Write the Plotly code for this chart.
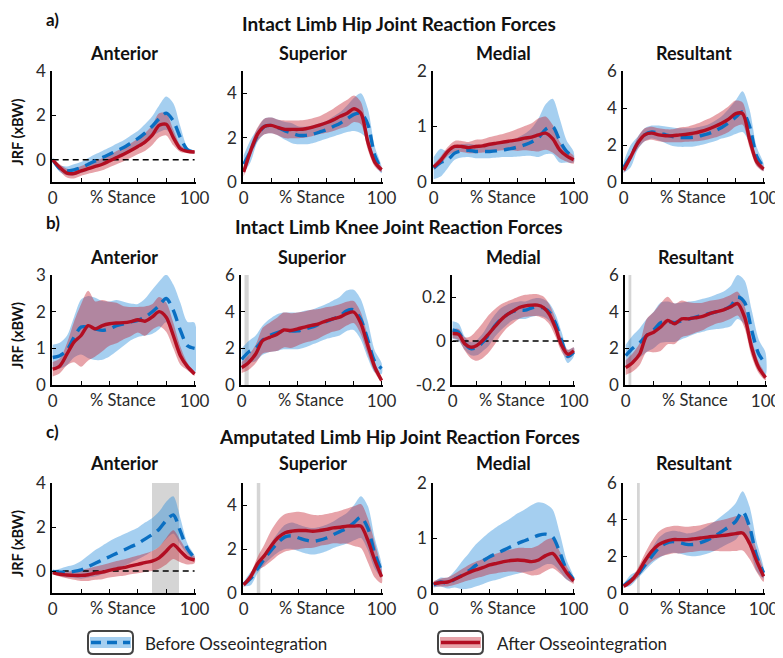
import plotly.graph_objects as go

# page body has an 8px margin: draw on a 775x650 canvas offset by 8px
OFF = 8
W, H = 783 - OFF, 658 - OFF
pct = list(range(0, 101, 5))

# ---------------- a) Intact limb hip ----------------
a_ant_before = [0, -0.4, -0.5, -0.45, -0.35, -0.2, -0.05, 0.1, 0.25, 0.4, 0.55, 0.75, 0.95, 1.2, 1.5, 1.85, 2.1, 1.75, 1.0, 0.45, 0.35]
a_ant_before_sd = [0.1, 0.15, 0.2, 0.25, 0.25, 0.28, 0.3, 0.3, 0.3, 0.32, 0.33, 0.35, 0.35, 0.4, 0.45, 0.6, 0.75, 0.8, 0.5, 0.12, 0.05]
a_ant_after = [0, -0.35, -0.6, -0.62, -0.5, -0.4, -0.3, -0.2, -0.05, 0.1, 0.25, 0.42, 0.6, 0.8, 1.1, 1.55, 1.6, 1.0, 0.5, 0.38, 0.35]
a_ant_after_sd = [0.05, 0.15, 0.2, 0.22, 0.22, 0.23, 0.25, 0.27, 0.28, 0.3, 0.32, 0.33, 0.35, 0.4, 0.45, 0.55, 0.5, 0.35, 0.15, 0.08, 0.05]

a_sup_before = [0.8, 1.4, 2.1, 2.5, 2.55, 2.45, 2.3, 2.2, 2.1, 2.1, 2.15, 2.25, 2.35, 2.5, 2.65, 2.85, 3.05, 3.1, 2.6, 1.2, 0.55]
a_sup_before_sd = [0.4, 0.5, 0.3, 0.35, 0.35, 0.35, 0.4, 0.45, 0.4, 0.4, 0.4, 0.4, 0.4, 0.45, 0.5, 0.6, 0.75, 0.9, 0.7, 0.4, 0.15]
a_sup_after = [0.45, 1.4, 2.15, 2.5, 2.55, 2.45, 2.37, 2.37, 2.37, 2.4, 2.47, 2.56, 2.67, 2.8, 2.96, 3.1, 3.3, 3.1, 1.8, 0.9, 0.55]
a_sup_after_sd = [0.2, 0.25, 0.3, 0.35, 0.35, 0.35, 0.4, 0.4, 0.4, 0.4, 0.4, 0.4, 0.45, 0.5, 0.55, 0.6, 0.6, 0.5, 0.35, 0.2, 0.1]

a_med_before = [0.25, 0.35, 0.4, 0.52, 0.56, 0.57, 0.55, 0.55, 0.55, 0.56, 0.58, 0.6, 0.63, 0.67, 0.72, 0.8, 0.95, 1.0, 0.75, 0.55, 0.45]
a_med_before_sd = [0.2, 0.25, 0.15, 0.12, 0.12, 0.12, 0.12, 0.12, 0.12, 0.12, 0.13, 0.15, 0.17, 0.2, 0.25, 0.35, 0.45, 0.5, 0.4, 0.2, 0.1]
a_med_after = [0.27, 0.39, 0.55, 0.64, 0.64, 0.62, 0.64, 0.65, 0.68, 0.7, 0.72, 0.74, 0.76, 0.79, 0.81, 0.85, 0.88, 0.78, 0.58, 0.47, 0.4]
a_med_after_sd = [0.05, 0.07, 0.08, 0.1, 0.1, 0.1, 0.12, 0.12, 0.13, 0.14, 0.15, 0.17, 0.2, 0.22, 0.25, 0.3, 0.3, 0.25, 0.15, 0.1, 0.07]

a_res_before = [0.8, 1.4, 2.1, 2.55, 2.7, 2.65, 2.55, 2.45, 2.4, 2.4, 2.42, 2.5, 2.6, 2.75, 2.95, 3.2, 3.5, 3.8, 3.0, 1.4, 0.8]
a_res_before_sd = [0.3, 0.6, 0.35, 0.35, 0.35, 0.4, 0.45, 0.5, 0.5, 0.5, 0.5, 0.5, 0.5, 0.55, 0.6, 0.75, 0.9, 1.1, 0.9, 0.5, 0.2]
a_res_after = [0.64, 1.36, 2.1, 2.55, 2.64, 2.55, 2.5, 2.5, 2.55, 2.58, 2.64, 2.73, 2.85, 3.0, 3.18, 3.4, 3.7, 3.7, 2.3, 1.1, 0.7]
a_res_after_sd = [0.15, 0.2, 0.3, 0.35, 0.35, 0.35, 0.35, 0.35, 0.4, 0.4, 0.45, 0.5, 0.55, 0.6, 0.65, 0.7, 0.7, 0.6, 0.45, 0.25, 0.12]

# ---------------- b) Intact limb knee ----------------
b_ant_before = [0.75, 0.8, 0.94, 1.3, 1.58, 1.58, 1.53, 1.49, 1.53, 1.62, 1.67, 1.72, 1.76, 1.85, 1.99, 2.17, 2.36, 2.04, 1.49, 1.07, 1.0]
b_ant_before_sd = [0.35, 0.35, 0.4, 0.55, 0.75, 0.85, 0.85, 0.8, 0.75, 0.7, 0.6, 0.5, 0.45, 0.5, 0.6, 0.65, 0.65, 0.7, 0.75, 0.65, 0.7]
b_ant_after = [0.43, 0.52, 0.84, 1.17, 1.35, 1.62, 1.53, 1.62, 1.67, 1.69, 1.7, 1.73, 1.78, 1.74, 1.85, 2.0, 1.85, 1.35, 0.8, 0.5, 0.3]
b_ant_after_sd = [0.2, 0.2, 0.3, 0.55, 0.85, 0.95, 0.75, 0.7, 0.6, 0.55, 0.45, 0.4, 0.35, 0.4, 0.35, 0.4, 0.4, 0.35, 0.25, 0.1, 0.05]

b_sup_before = [1.4, 1.8, 2.0, 2.45, 2.7, 2.85, 2.95, 2.95, 2.95, 3.05, 3.15, 3.3, 3.45, 3.6, 3.75, 4.05, 4.1, 3.6, 2.5, 1.3, 0.9]
b_sup_before_sd = [0.6, 0.6, 0.7, 0.8, 0.9, 1.0, 1.0, 1.0, 1.0, 1.0, 0.95, 0.95, 0.95, 1.0, 1.05, 1.1, 1.1, 1.1, 1.0, 0.6, 0.3]
b_sup_after = [0.95, 1.23, 1.69, 2.42, 2.6, 2.75, 3.0, 2.97, 3.06, 3.16, 3.25, 3.34, 3.49, 3.6, 3.7, 3.89, 3.98, 3.4, 2.2, 1.0, 0.25]
b_sup_after_sd = [0.3, 0.4, 0.5, 0.7, 0.8, 0.9, 0.95, 0.95, 0.9, 0.85, 0.85, 0.8, 0.75, 0.7, 0.7, 0.65, 0.6, 0.6, 0.5, 0.3, 0.1]

b_med_before = [0.05, 0.04, -0.01, -0.035, -0.03, -0.005, 0.03, 0.07, 0.1, 0.12, 0.135, 0.14, 0.14, 0.15, 0.155, 0.15, 0.13, 0.08, 0.0, -0.07, -0.05]
b_med_before_sd = [0.04, 0.04, 0.03, 0.03, 0.035, 0.04, 0.05, 0.05, 0.05, 0.045, 0.04, 0.04, 0.04, 0.04, 0.04, 0.04, 0.04, 0.04, 0.04, 0.03, 0.02]
b_med_after = [0.034, 0.03, -0.013, -0.028, -0.02, 0.003, 0.034, 0.066, 0.097, 0.12, 0.136, 0.152, 0.16, 0.163, 0.163, 0.152, 0.12, 0.058, -0.02, -0.06, -0.044]
b_med_after_sd = [0.02, 0.025, 0.03, 0.05, 0.07, 0.08, 0.085, 0.08, 0.07, 0.06, 0.055, 0.05, 0.05, 0.05, 0.05, 0.05, 0.045, 0.04, 0.03, 0.02, 0.015]

b_res_before = [1.6, 2.0, 2.3, 2.7, 3.0, 3.4, 3.45, 3.4, 3.5, 3.6, 3.7, 3.8, 3.9, 4.0, 4.1, 4.3, 4.8, 4.5, 3.0, 1.7, 1.15]
b_res_before_sd = [0.6, 0.7, 0.8, 0.9, 1.0, 1.1, 1.1, 1.05, 1.0, 0.95, 0.9, 0.9, 0.9, 0.95, 1.0, 1.1, 1.2, 1.2, 1.1, 0.8, 0.6]
b_res_after = [0.95, 1.23, 1.69, 2.7, 2.88, 3.16, 3.52, 3.34, 3.61, 3.61, 3.67, 3.74, 3.89, 4.0, 4.1, 4.26, 4.44, 3.7, 2.05, 0.95, 0.4]
b_res_after_sd = [0.4, 0.5, 0.6, 0.9, 1.1, 1.3, 1.3, 1.1, 1.0, 0.9, 0.8, 0.75, 0.7, 0.65, 0.65, 0.65, 0.65, 0.6, 0.5, 0.3, 0.15]

# ---------------- c) Amputated limb hip ----------------
c_ant_before = [-0.02, -0.05, -0.05, -0.02, 0.05, 0.2, 0.35, 0.5, 0.65, 0.8, 0.95, 1.1, 1.25, 1.45, 1.65, 1.9, 2.3, 2.55, 1.8, 1.0, 0.6]
c_ant_before_sd = [0.05, 0.15, 0.25, 0.3, 0.4, 0.5, 0.6, 0.65, 0.7, 0.72, 0.72, 0.72, 0.72, 0.75, 0.75, 0.8, 0.85, 0.85, 0.6, 0.25, 0.1]
c_ant_after = [-0.07, -0.15, -0.18, -0.2, -0.2, -0.17, -0.1, -0.05, 0.03, 0.1, 0.15, 0.23, 0.3, 0.38, 0.45, 0.6, 0.9, 1.2, 0.9, 0.6, 0.5]
c_ant_after_sd = [0.05, 0.1, 0.15, 0.2, 0.25, 0.28, 0.3, 0.32, 0.33, 0.35, 0.37, 0.38, 0.4, 0.42, 0.45, 0.5, 0.6, 0.65, 0.5, 0.3, 0.15]

c_sup_before = [0.4, 0.65, 1.1, 1.55, 1.95, 2.3, 2.55, 2.6, 2.5, 2.4, 2.35, 2.4, 2.5, 2.65, 2.8, 2.95, 3.2, 3.45, 2.95, 1.8, 1.0]
c_sup_before_sd = [0.1, 0.3, 0.2, 0.25, 0.35, 0.45, 0.55, 0.6, 0.6, 0.6, 0.6, 0.6, 0.6, 0.6, 0.65, 0.7, 0.8, 0.95, 1.0, 0.7, 0.3]
c_sup_after = [0.37, 0.74, 1.33, 1.7, 2.15, 2.52, 2.74, 2.81, 2.84, 2.84, 2.81, 2.84, 2.89, 2.96, 2.99, 3.04, 3.04, 3.04, 2.4, 1.5, 0.74]
c_sup_after_sd = [0.1, 0.15, 0.3, 0.5, 0.7, 0.8, 0.85, 0.85, 0.85, 0.8, 0.75, 0.7, 0.7, 0.7, 0.75, 0.8, 0.9, 1.0, 1.0, 0.8, 0.3]

c_med_before = [0.15, 0.2, 0.18, 0.25, 0.32, 0.4, 0.5, 0.58, 0.66, 0.72, 0.78, 0.84, 0.9, 0.95, 1.0, 1.05, 1.07, 1.02, 0.75, 0.42, 0.25]
c_med_before_sd = [0.05, 0.08, 0.1, 0.15, 0.25, 0.32, 0.38, 0.42, 0.45, 0.48, 0.5, 0.52, 0.55, 0.57, 0.6, 0.6, 0.55, 0.5, 0.35, 0.18, 0.05]
c_med_after = [0.17, 0.19, 0.2, 0.25, 0.31, 0.37, 0.42, 0.46, 0.51, 0.54, 0.57, 0.59, 0.6, 0.59, 0.57, 0.6, 0.68, 0.72, 0.56, 0.37, 0.22]
c_med_after_sd = [0.05, 0.07, 0.08, 0.1, 0.12, 0.14, 0.15, 0.16, 0.17, 0.18, 0.19, 0.2, 0.22, 0.23, 0.25, 0.27, 0.28, 0.27, 0.2, 0.12, 0.05]

c_res_before = [0.4, 0.7, 1.0, 1.5, 2.0, 2.45, 2.7, 2.8, 2.75, 2.65, 2.65, 2.75, 2.9, 3.1, 3.35, 3.6, 3.9, 4.45, 3.6, 2.0, 1.1]
c_res_before_sd = [0.1, 0.3, 0.2, 0.3, 0.4, 0.55, 0.6, 0.6, 0.6, 0.6, 0.65, 0.7, 0.75, 0.8, 0.85, 0.9, 1.0, 1.1, 1.1, 0.8, 0.3]
c_res_after = [0.36, 0.64, 1.09, 1.73, 2.27, 2.64, 2.82, 2.91, 2.91, 2.91, 2.95, 3.0, 3.05, 3.09, 3.13, 3.18, 3.24, 3.27, 2.7, 1.75, 0.91]
c_res_after_sd = [0.1, 0.15, 0.25, 0.4, 0.55, 0.7, 0.75, 0.75, 0.75, 0.7, 0.7, 0.7, 0.75, 0.8, 0.85, 0.9, 0.95, 0.95, 0.85, 0.6, 0.3]

# shaded (significant) regions, % stance
b_sup_gray = [2, 5]
b_res_gray = [2, 4]
c_ant_gray = [70, 89]
c_sup_gray = [9.5, 12]
c_res_gray = [9.5, 11.5]

row_titles = ["Intact Limb Hip Joint Reaction Forces",
              "Intact Limb Knee Joint Reaction Forces",
              "Amputated Limb Hip Joint Reaction Forces"]
row_tags = ["a)", "b)", "c)"]
col_titles = ["Anterior", "Superior", "Medial", "Resultant"]
legend_labels = ["Before Osseointegration", "After Osseointegration"]

panels = [
    # row, col, before, before_sd, after, after_sd, yrange, yticks, zero line, gray
    (0, 0, a_ant_before, a_ant_before_sd, a_ant_after, a_ant_after_sd, [-1, 4], [0, 2, 4], True, None),
    (0, 1, a_sup_before, a_sup_before_sd, a_sup_after, a_sup_after_sd, [0, 5], [0, 2, 4], False, None),
    (0, 2, a_med_before, a_med_before_sd, a_med_after, a_med_after_sd, [0, 2], [0, 1, 2], False, None),
    (0, 3, a_res_before, a_res_before_sd, a_res_after, a_res_after_sd, [0, 6], [0, 2, 4, 6], False, None),
    (1, 0, b_ant_before, b_ant_before_sd, b_ant_after, b_ant_after_sd, [0, 3], [0, 1, 2, 3], False, None),
    (1, 1, b_sup_before, b_sup_before_sd, b_sup_after, b_sup_after_sd, [0, 6], [0, 2, 4, 6], False, b_sup_gray),
    (1, 2, b_med_before, b_med_before_sd, b_med_after, b_med_after_sd, [-0.2, 0.3], [-0.2, 0, 0.2], True, None),
    (1, 3, b_res_before, b_res_before_sd, b_res_after, b_res_after_sd, [0, 6], [0, 2, 4, 6], False, b_res_gray),
    (2, 0, c_ant_before, c_ant_before_sd, c_ant_after, c_ant_after_sd, [-1, 4], [0, 2, 4], True, c_ant_gray),
    (2, 1, c_sup_before, c_sup_before_sd, c_sup_after, c_sup_after_sd, [0, 5], [0, 2, 4], False, c_sup_gray),
    (2, 2, c_med_before, c_med_before_sd, c_med_after, c_med_after_sd, [0, 2], [0, 1, 2], False, None),
    (2, 3, c_res_before, c_res_before_sd, c_res_after, c_res_after_sd, [0, 6], [0, 2, 4, 6], False, c_res_gray),
]

# ---------------- layout geometry (reference pixels) ----------------
col_px = [[(52, 196), (243, 383), (433, 575), (623, 765)],
          [(52, 196), (241, 383), (452, 575), (625, 767)],
          [(52, 196), (243, 383), (433, 575), (623, 765)]]
row_px = [(71, 182), (275, 385), (483, 593)]
row_title_y = [23, 226, 436]
row_tag_y = [19, 222, 432]
col_title_y = [53, 257, 463]

def px(x):
    return (x - OFF) / W

def py(y):
    return 1 - (y - OFF) / H

FONT = "Lato"
BLUE_LINE = "#0a6fc2"
RED_LINE = "rgb(178,14,34)"
BLUE_FILL = "rgba(40,140,220,0.42)"
RED_FILL = "rgba(195,25,40,0.40)"

fig = go.Figure()
layout = dict(width=W, height=H, margin=dict(l=0, r=0, t=0, b=0, pad=0, autoexpand=False),
              template="none",
              paper_bgcolor="white", plot_bgcolor="white", showlegend=False,
              font=dict(family=FONT, color="#222"))
annotations = []
shapes = []

for k, (r, c, bm, bsd, am, asd, yr, yt, zero, gray) in enumerate(panels):
    i = k + 1
    xs = "" if i == 1 else str(i)
    xa, ya = "x" + xs, "y" + xs
    x0, x1 = col_px[r][c]
    y0, y1 = row_px[r]
    layout["xaxis" + xs] = dict(domain=[px(x0), px(x1)], anchor=ya, range=[-0.5, 101],
                                automargin=False,
                                showline=True, linecolor="black", linewidth=1.5,
                                ticks="inside", ticklen=4, tickcolor="black",
                                tickvals=[0, 20, 40, 60, 80, 100],
                                ticktext=["0", "", "", "", "", "100"],
                                tickfont=dict(size=17, color="#2a2a2a", family=FONT),
                                showgrid=False, zeroline=False, fixedrange=True)
    layout["yaxis" + xs] = dict(domain=[py(y1), py(y0)], anchor=xa, range=yr,
                                automargin=False,
                                showline=True, linecolor="black", linewidth=1.5,
                                ticks="inside", ticklen=4, tickcolor="black",
                                tickvals=yt, ticktext=[("%g" % v) for v in yt],
                                tickfont=dict(size=17, color="#2a2a2a", family=FONT),
                                ticklabelstandoff=1,
                                showgrid=False, zeroline=False, fixedrange=True)
    if gray is not None:
        shapes.append(dict(type="rect", xref=xa, yref=ya + " domain", x0=gray[0], x1=gray[1],
                           y0=0, y1=1, fillcolor="rgba(185,185,185,0.6)", line=dict(width=0),
                           layer="below"))
    for mean, sd, fillc in ((bm, bsd, BLUE_FILL), (am, asd, RED_FILL)):
        up = [m + s for m, s in zip(mean, sd)]
        lo = [m - s for m, s in zip(mean, sd)]
        fig.add_trace(go.Scatter(x=pct + pct[::-1], y=up + lo[::-1], xaxis=xa, yaxis=ya,
                                 mode="lines", fill="toself", fillcolor=fillc,
                                 line=dict(width=0, shape="spline", smoothing=0.8),
                                 hoverinfo="skip"))
    if zero:
        fig.add_trace(go.Scatter(x=[pct[0], pct[-1]], y=[0, 0], xaxis=xa, yaxis=ya, mode="lines",
                                 line=dict(color="black", width=1.5, dash="6px,4px"),
                                 hoverinfo="skip"))
    fig.add_trace(go.Scatter(x=pct, y=bm, xaxis=xa, yaxis=ya, mode="lines",
                             line=dict(color=BLUE_LINE, width=3.4, dash="12px,7px",
                                       shape="spline", smoothing=0.8),
                             name=legend_labels[0]))
    fig.add_trace(go.Scatter(x=pct, y=am, xaxis=xa, yaxis=ya, mode="lines",
                             line=dict(color=RED_LINE, width=3.4, shape="spline", smoothing=0.8),
                             name=legend_labels[1]))
    # "% Stance" label
    annotations.append(dict(text="% Stance", xref=xa + " domain", x=0.49, yref=ya + " domain",
                            y=0, yanchor="top", yshift=-3, showarrow=False,
                            font=dict(size=16.5, color="#2a2a2a", family=FONT)))
    # column title
    annotations.append(dict(text="<b>%s</b>" % col_titles[c], xref=xa + " domain", x=0.5,
                            xanchor="center", yref="paper", y=py(col_title_y[r]), yanchor="middle",
                            showarrow=False, font=dict(size=18, color="#111", family=FONT)))

for r in range(3):
    annotations.append(dict(text="<b>%s</b>" % row_titles[r], xref="paper", x=px(399),
                            xanchor="center", yref="paper", y=py(row_title_y[r]), yanchor="middle",
                            showarrow=False, font=dict(size=19, color="#111", family=FONT)))
    annotations.append(dict(text="<b>%s</b>" % row_tags[r], xref="paper", x=px(44), xanchor="left",
                            yref="paper", y=py(row_tag_y[r]), yanchor="middle",
                            showarrow=False, font=dict(size=17, color="#111", family=FONT)))
    yc = (row_px[r][0] + row_px[r][1]) / 2
    annotations.append(dict(text="<b>JRF (xBW)</b>", xref="paper", x=px(17), xanchor="center",
                            yref="paper", y=py(yc + 6), yanchor="middle", textangle=-90,
                            showarrow=False, font=dict(size=14.5, color="#111", family=FONT)))

# ---------------- legend (drawn) ----------------
def rounded_box(x0, y0, x1, y1, rad):
    X0, X1 = px(x0), px(x1)
    Y0, Y1 = py(y1), py(y0)
    rx, ry = rad / W, rad / H
    return (f"M {X0+rx},{Y0} L {X1-rx},{Y0} Q {X1},{Y0} {X1},{Y0+ry} "
            f"L {X1},{Y1-ry} Q {X1},{Y1} {X1-rx},{Y1} L {X0+rx},{Y1} "
            f"Q {X0},{Y1} {X0},{Y1-ry} L {X0},{Y0+ry} Q {X0},{Y0} {X0+rx},{Y0} Z")

legend_items = [
    (88, 133, 143, BLUE_FILL, BLUE_LINE, "10px,6px", legend_labels[0]),
    (438, 483, 495, RED_FILL, RED_LINE, None, legend_labels[1]),
]
for bx0, bx1, tx, fillc, linec, dash, label in legend_items:
    shapes.append(dict(type="path", path=rounded_box(bx0, 631, bx1, 654, 5), xref="paper",
                       yref="paper", fillcolor="white", line=dict(color="#444", width=2)))
    shapes.append(dict(type="rect", xref="paper", yref="paper", x0=px(bx0 + 2), x1=px(bx1 - 2),
                       y0=py(648), y1=py(637), fillcolor=fillc, line=dict(width=0)))
    ld = dict(color=linec, width=3.4)
    if dash:
        ld["dash"] = dash
    shapes.append(dict(type="line", xref="paper", yref="paper", x0=px(bx0 + 3), x1=px(bx1 - 3),
                       y0=py(642.5), y1=py(642.5), line=ld))
    annotations.append(dict(text=label, xref="paper", x=px(tx), xanchor="left", yref="paper",
                            y=py(643), yanchor="middle", showarrow=False,
                            font=dict(size=17, color="#222", family=FONT)))

layout["annotations"] = annotations
layout["shapes"] = shapes
fig.update_layout(**layout)
fig.write_html("out.html")
